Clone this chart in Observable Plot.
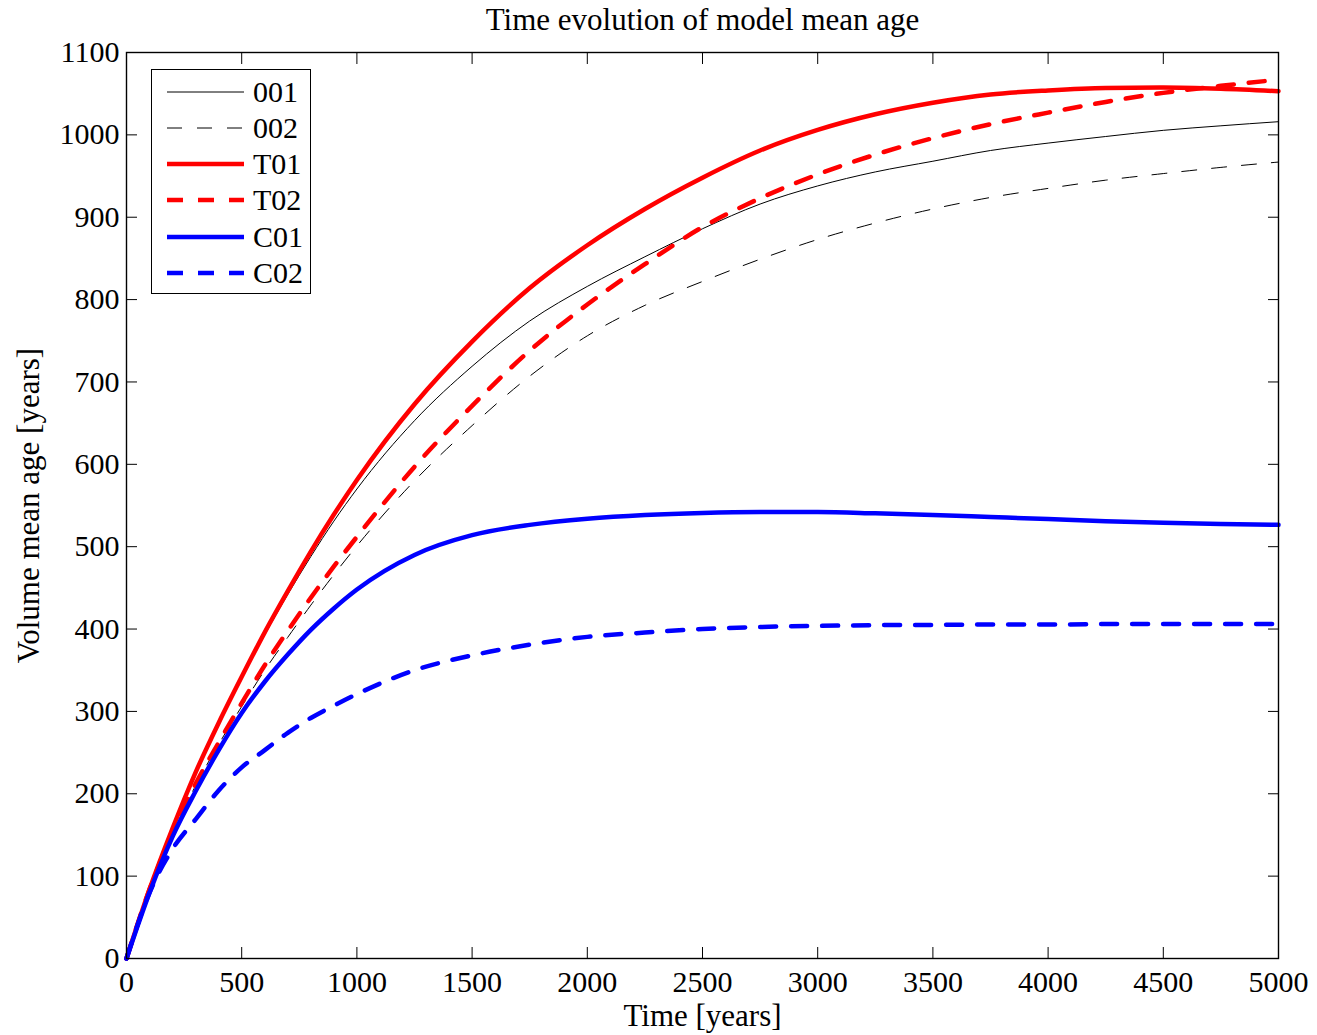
<!DOCTYPE html>
<html>
<head>
<meta charset="utf-8">
<script src="https://cdn.jsdelivr.net/npm/d3@7"></script>
<script src="https://cdn.jsdelivr.net/npm/@observablehq/plot@0.6"></script>
<style>
  body { margin: 0; background: #fff; }
  #wrap { position: relative; width: 1317px; height: 1035px; font-family: "Liberation Serif", "Times New Roman", serif; }
  #legend { position: absolute; left: 151px; top: 69px; width: 158px; height: 223px; border: 1.5px solid #000; background: #fff; }
  .row { position: absolute; left: 0; height: 36px; width: 158px; }
  .row svg { position: absolute; left: 0; top: 0; }
  .row span { position: absolute; left: 101px; top: 0; line-height: 36px; font-size: 30px; color: #000; }
</style>
</head>
<body>
<div id="wrap"><div id="chart"></div><div id="legend"></div></div>
<script>
// ---- data ----
const years = [0,100,200,300,400,500,600,700,800,900,1000,1250,1500,1750,2000,2250,2500,2750,3000,3250,3500,3750,4000,4250,4500,4750,5000];
const run001 = [0,84,157,225,284,340,393,442,488,531,570,653,719,774,816,852,886,916,938,955,968,981,990,998,1005.5,1011,1016];
const run002 = [0,84,151,210,260,306,350,390,429,466,501,580,647,707,756,793,822,849,873,893,910,924,935,945,953,960.5,967];
const runT01 = [0,84,158,226,286,342,396,446,494,539,581,673,749,814,866,910,948,981,1006,1025,1039,1049,1054,1057,1057.5,1056,1053];
const runT02 = [0,84,152,212,262,310,356,398,438,476,512,597,671,738,794,843,888,923,952,976,996,1013,1027,1040,1051,1059.5,1067];
const runC01 = [0,80,148,203,253,298,336,369,399,425,448,490,514,526.5,534,538.5,541,542,542,540.5,538.5,536,533.5,531,529,527.5,526.5];
const runC02 = [0,80,133,169,204,232,253,274,292,307,321,350,368,381,390.5,395.7,400,402.5,403.8,404.7,405,405.5,405.5,406,406,406,406];
const seriesNames = ["001","002","T01","T02","C01","C02"];
const xTicks = [0,500,1000,1500,2000,2500,3000,3500,4000,4500,5000];
const yTicks = [0,100,200,300,400,500,600,700,800,900,1000,1100];
const titleText = "Time evolution of model mean age";
const xLabel = "Time [years]";
const yLabel = "Volume mean age [years]";

// ---- styles ----
const styles = {
  "001": {stroke: "#000000", strokeWidth: 1, dash: null},
  "002": {stroke: "#000000", strokeWidth: 1, dash: "15,15"},
  "T01": {stroke: "#ff0000", strokeWidth: 4.5, dash: null},
  "T02": {stroke: "#ff0000", strokeWidth: 4.5, dash: "16,15"},
  "C01": {stroke: "#0000ff", strokeWidth: 4.5, dash: null},
  "C02": {stroke: "#0000ff", strokeWidth: 4.5, dash: "16,15"}
};
const valuesBy = {"001": run001, "002": run002, "T01": runT01, "T02": runT02, "C01": runC01, "C02": runC02};

const lineMarks = seriesNames.map(name => {
  const rows = years.map((t, i) => ({t, v: valuesBy[name][i]}));
  const s = styles[name];
  const opts = {x: "t", y: "v", stroke: s.stroke, strokeWidth: s.strokeWidth, curve: "monotone-x"};
  if (s.dash) opts.strokeDasharray = s.dash;
  return Plot.line(rows, opts);
});

const fmt = d3.format("d");
const plot = Plot.plot({
  width: 1317, height: 1035,
  marginTop: 52, marginBottom: 77, marginLeft: 126, marginRight: 39,
  style: {fontFamily: "'Liberation Serif', 'Times New Roman', serif", fontSize: "30px", color: "#000", background: "#fff"},
  x: {domain: [0, 5000]},
  y: {domain: [0, 1100]},
  marks: [
    ...lineMarks,
    Plot.axisX({ticks: xTicks, tickSize: -11, tickPadding: 23, tickFormat: fmt, label: null}),
    Plot.axisX({anchor: "top", ticks: xTicks, tickSize: -11, tickFormat: () => "", label: null}),
    Plot.axisY({ticks: yTicks, tickSize: -11, tickPadding: 18, tickFormat: fmt, label: null}),
    Plot.axisY({anchor: "right", ticks: yTicks, tickSize: -11, tickFormat: () => "", label: null}),
    Plot.frame({stroke: "#000", strokeWidth: 1.4}),
    Plot.text([titleText], {frameAnchor: "top", lineAnchor: "middle", dy: -32, fontSize: 31, fill: "#000"}),
    Plot.text([xLabel], {frameAnchor: "bottom", lineAnchor: "middle", dy: 58, fontSize: 31, fill: "#000"}),
    Plot.text([yLabel], {frameAnchor: "left", lineAnchor: "middle", dx: -97, rotate: -90, textAnchor: "middle", fontSize: 31, fill: "#000"})
  ]
});
document.getElementById("chart").appendChild(plot);

// ---- legend ----
const legend = document.getElementById("legend");
const rowCenters = [21.5, 57.8, 94.1, 130.4, 166.7, 203];
seriesNames.forEach((name, i) => {
  const s = styles[name];
  const row = document.createElement("div");
  row.className = "row";
  row.style.top = (rowCenters[i] - 18) + "px";
  row.innerHTML = `<svg width="100" height="36"><line x1="15" x2="92" y1="18" y2="18" stroke="${s.stroke}" stroke-width="${s.strokeWidth}" ${s.dash ? `stroke-dasharray="${s.dash}"` : ""}/></svg><span>${name}</span>`;
  legend.appendChild(row);
});
</script>
</body>
</html>
